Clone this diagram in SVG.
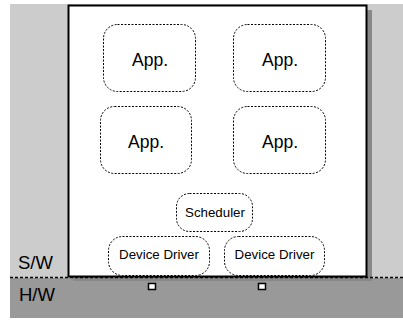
<svg xmlns="http://www.w3.org/2000/svg" width="403" height="320" viewBox="0 0 403 320">
<defs>
<style>
.node{fill:#fff;stroke:#000;stroke-width:1;stroke-dasharray:2,1.5}
.lbl{font-family:"Liberation Sans",Arial,sans-serif;fill:#000;text-anchor:middle}
.big{font-size:17.5px}
.small{font-size:13.3px}
.side{font-family:"Liberation Sans",Arial,sans-serif;font-size:18.5px;fill:#000}
</style>
</defs>
<rect x="10" y="4" width="393" height="274" fill="#cccccc"/>
<rect x="10" y="278" width="393" height="40" fill="#999999"/>
<rect x="73" y="10" width="299" height="271" fill="#888888"/>
<rect x="68.5" y="5.5" width="298" height="271" fill="#fff" stroke="#000" stroke-width="2"/>
<line x1="10" y1="277.5" x2="403" y2="277.5" stroke="#000" stroke-width="1.5" stroke-dasharray="3,2"/>
<text class="side" x="18" y="269">S/W</text>
<text class="side" x="19" y="301">H/W</text>
<g id="app1"><rect class="node" x="103.5" y="24.5" width="92" height="67" rx="14"/><text class="lbl big" x="150" y="66">App.</text></g>
<g id="app2"><rect class="node" x="233.5" y="24.5" width="92" height="67" rx="14"/><text class="lbl big" x="280" y="66">App.</text></g>
<g id="app3"><rect class="node" x="100.5" y="106.5" width="91" height="67" rx="14"/><text class="lbl big" x="146" y="148">App.</text></g>
<g id="app4"><rect class="node" x="233.5" y="106.5" width="92" height="67" rx="14"/><text class="lbl big" x="280" y="148">App.</text></g>
<g id="scheduler"><rect class="node" x="176.5" y="193.5" width="76" height="38" rx="13"/><text class="lbl small" x="215" y="216.5">Scheduler</text></g>
<g id="driver1"><rect class="node" x="108.5" y="236.5" width="101" height="39" rx="14"/><text class="lbl small" x="159" y="258.5">Device Driver</text></g>
<g id="driver2"><rect class="node" x="224.5" y="236.5" width="100" height="39" rx="14"/><text class="lbl small" x="274.5" y="258.5">Device Driver</text></g>
<g id="connectors">
<rect x="148.5" y="283.5" width="7" height="6" fill="#fff" stroke="#000" stroke-width="1.5"/>
<rect x="258.5" y="283.5" width="7" height="6" fill="#fff" stroke="#000" stroke-width="1.5"/>
</g>
</svg>
